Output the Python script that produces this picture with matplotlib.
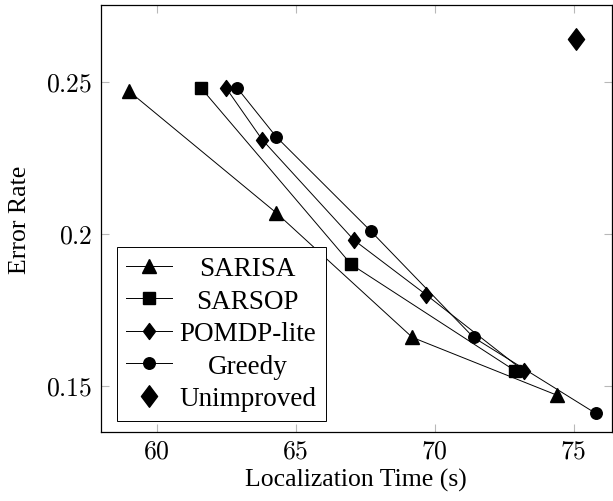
import matplotlib.pyplot as plt
from matplotlib.path import Path
from matplotlib.transforms import Affine2D

plt.rcParams["font.family"] = ["Liberation Serif", "DejaVu Serif"]
plt.rcParams["mathtext.fontset"] = "cm"

sarisa_x = [59.0, 64.3, 69.2, 74.4]
sarisa_y = [0.247, 0.207, 0.166, 0.147]
sarsop_x = [61.6, 67.0, 72.9]
sarsop_y = [0.248, 0.190, 0.155]
pomdp_x = [62.5, 63.8, 67.1, 69.7, 73.2]
pomdp_y = [0.248, 0.231, 0.198, 0.180, 0.155]
greedy_x = [62.9, 64.3, 67.7, 71.4, 75.8]
greedy_y = [0.248, 0.232, 0.201, 0.166, 0.141]
unimproved_x = [75.1]
unimproved_y = [0.264]

x_ticks = [60, 65, 70, 75]
y_ticks = [0.15, 0.2, 0.25]
y_tick_labels = ["0.15", "0.2", "0.25"]

# pgf-style diamond (aspect 0.75)
diamond = Path([(0, 1), (0.75, 0), (0, -1), (-0.75, 0), (0, 1)],
               [Path.MOVETO, Path.LINETO, Path.LINETO, Path.LINETO, Path.CLOSEPOLY])

fig = plt.figure(figsize=(6.13, 5.02), dpi=100)
ax = fig.add_axes([0.1648, 0.1375, 0.833, 0.8505])

line_kw = dict(color="black", linewidth=0.7)
ax.plot(sarisa_x, sarisa_y, marker="^", markersize=10, label="SARISA", **line_kw)
ax.plot(sarsop_x, sarsop_y, marker="s", markersize=8, label="SARSOP", **line_kw)
ax.plot(pomdp_x, pomdp_y, marker=diamond, markersize=11.5, label="POMDP-lite", **line_kw)
ax.plot(greedy_x, greedy_y, marker="o", markersize=8.3, label="Greedy", **line_kw)
ax.plot(unimproved_x, unimproved_y, linestyle="none", marker=diamond, markersize=15.5,
        color="black", label="Unimproved")

ax.set_xlim(58.0, 76.37)
ax.set_ylim(0.1349, 0.2753)
ax.set_xticks(x_ticks)
ax.set_xticklabels([f"${v}$" for v in x_ticks])
ax.set_yticks(y_ticks)
ax.set_yticklabels([f"${v}$" for v in y_tick_labels])
ax.tick_params(direction="in", length=6, color="#b8b8b8", width=0.8,
               top=True, right=True, labelsize=18.5, pad=6)
for s in ax.spines.values():
    s.set_linewidth(0.9)

ax.set_xlabel("Localization Time (s)", fontsize=18.5, labelpad=4)
ax.set_ylabel("Error Rate", fontsize=18.5, labelpad=11)

leg = ax.legend(loc="lower left", bbox_to_anchor=(0.031, 0.026), fontsize=19.5,
                frameon=True, fancybox=False, edgecolor="black", framealpha=1,
                handlelength=1.7, labelspacing=0.28, borderpad=0.35,
                handletextpad=0.25, borderaxespad=0)
leg.get_frame().set_linewidth(0.7)

# center the legend labels like pgfplots does
fig.canvas.draw()
renderer = fig.canvas.get_renderer()
texts = leg.get_texts()
widths = [t.get_window_extent(renderer).width for t in texts]
wmax = max(widths)
for t, w in zip(texts, widths):
    t.set_transform(t.get_transform() + Affine2D().translate((wmax - w) / 2, 0))

fig.savefig("out.png", dpi=100)
